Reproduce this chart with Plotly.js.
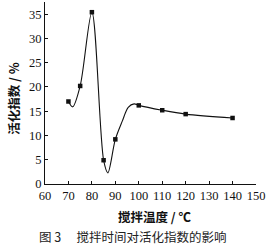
<!DOCTYPE html>
<html><head><meta charset="utf-8">
<script src="https://cdn.plot.ly/plotly-3.0.1.min.js"></script>
<style>body{margin:0;background:#fff}#c{width:275px;height:248px}</style>
</head><body><div id="c"></div>
<script>
// measured data points (markers)
const tempX = [70, 75, 80, 85, 90, 100, 110, 120, 140];
const indexY = [17, 20.2, 35.4, 4.9, 9.2, 16.2, 15.2, 14.4, 13.6];
// points
const curveX = [70, 71.8, 75, 80, 85, 86.8, 90, 93, 95.5, 98, 100, 110, 120, 140];
const curveY = [17, 15.9, 20.2, 35.4, 4.9, 2.3, 9.2, 13, 15.8, 16.5, 16.2, 15.2, 14.4, 13.6];
const xTicks = [60, 70, 80, 90, 100, 110, 120, 130, 140, 150];
const yTicks = [0, 5, 10, 15, 20, 25, 30, 35];

const serif = "Liberation Serif, Noto Sans CJK SC, serif";
const cjk = "Noto Sans CJK SC, Liberation Serif, serif";

Plotly.newPlot('c', [
  {x: curveX, y: curveY, mode: 'lines', line: {color: '#111', width: 1.1, shape: 'spline', smoothing: 0.9}, hoverinfo: 'skip'},
  {x: tempX, y: indexY, mode: 'markers', marker: {symbol: 'square', size: 4.5, color: '#111'}}
], {
  width: 275, height: 248,
  margin: {l: 45, r: 19, t: 2, b: 64},
  showlegend: false,
  paper_bgcolor: '#fff', plot_bgcolor: '#fff',
  font: {family: serif, color: '#111', size: 12},
  xaxis: {range: [60, 150], tickvals: xTicks, ticktext: xTicks.map(String), showgrid: false, zeroline: false,
    showline: true, linecolor: '#111', linewidth: 1, ticks: 'inside', ticklen: 3, tickcolor: '#111',
    tickfont: {family: serif, size: 12.5}, fixedrange: true},
  yaxis: {range: [0, 37.5], tickvals: yTicks, ticktext: yTicks.map(String), showgrid: false, zeroline: false,
    showline: true, linecolor: '#111', linewidth: 1, ticks: 'inside', ticklen: 3, tickcolor: '#111',
    tickfont: {family: serif, size: 12.5}, fixedrange: true},
  annotations: [
    {text: '活化指数 / %', xref: 'paper', yref: 'paper', x: -0.15, y: 0.47, xanchor: 'center', yanchor: 'middle',
     textangle: -90, showarrow: false, font: {family: cjk, size: 12.5, color: '#111', weight: 'bold'}},
    {text: '搅拌温度 / ℃', xref: 'paper', yref: 'paper', x: 0.52, y: -0.176, xanchor: 'center', yanchor: 'middle',
     showarrow: false, font: {family: cjk, size: 12.5, color: '#111', weight: 'bold'}},
    {text: '图 3　 搅拌时间对活化指数的影响', xref: 'paper', yref: 'paper', x: 0.415, y: -0.29, xanchor: 'center', yanchor: 'middle',
     showarrow: false, font: {family: cjk, size: 12.5, color: '#222'}}
  ]
}, {staticPlot: true});
</script></body></html>
